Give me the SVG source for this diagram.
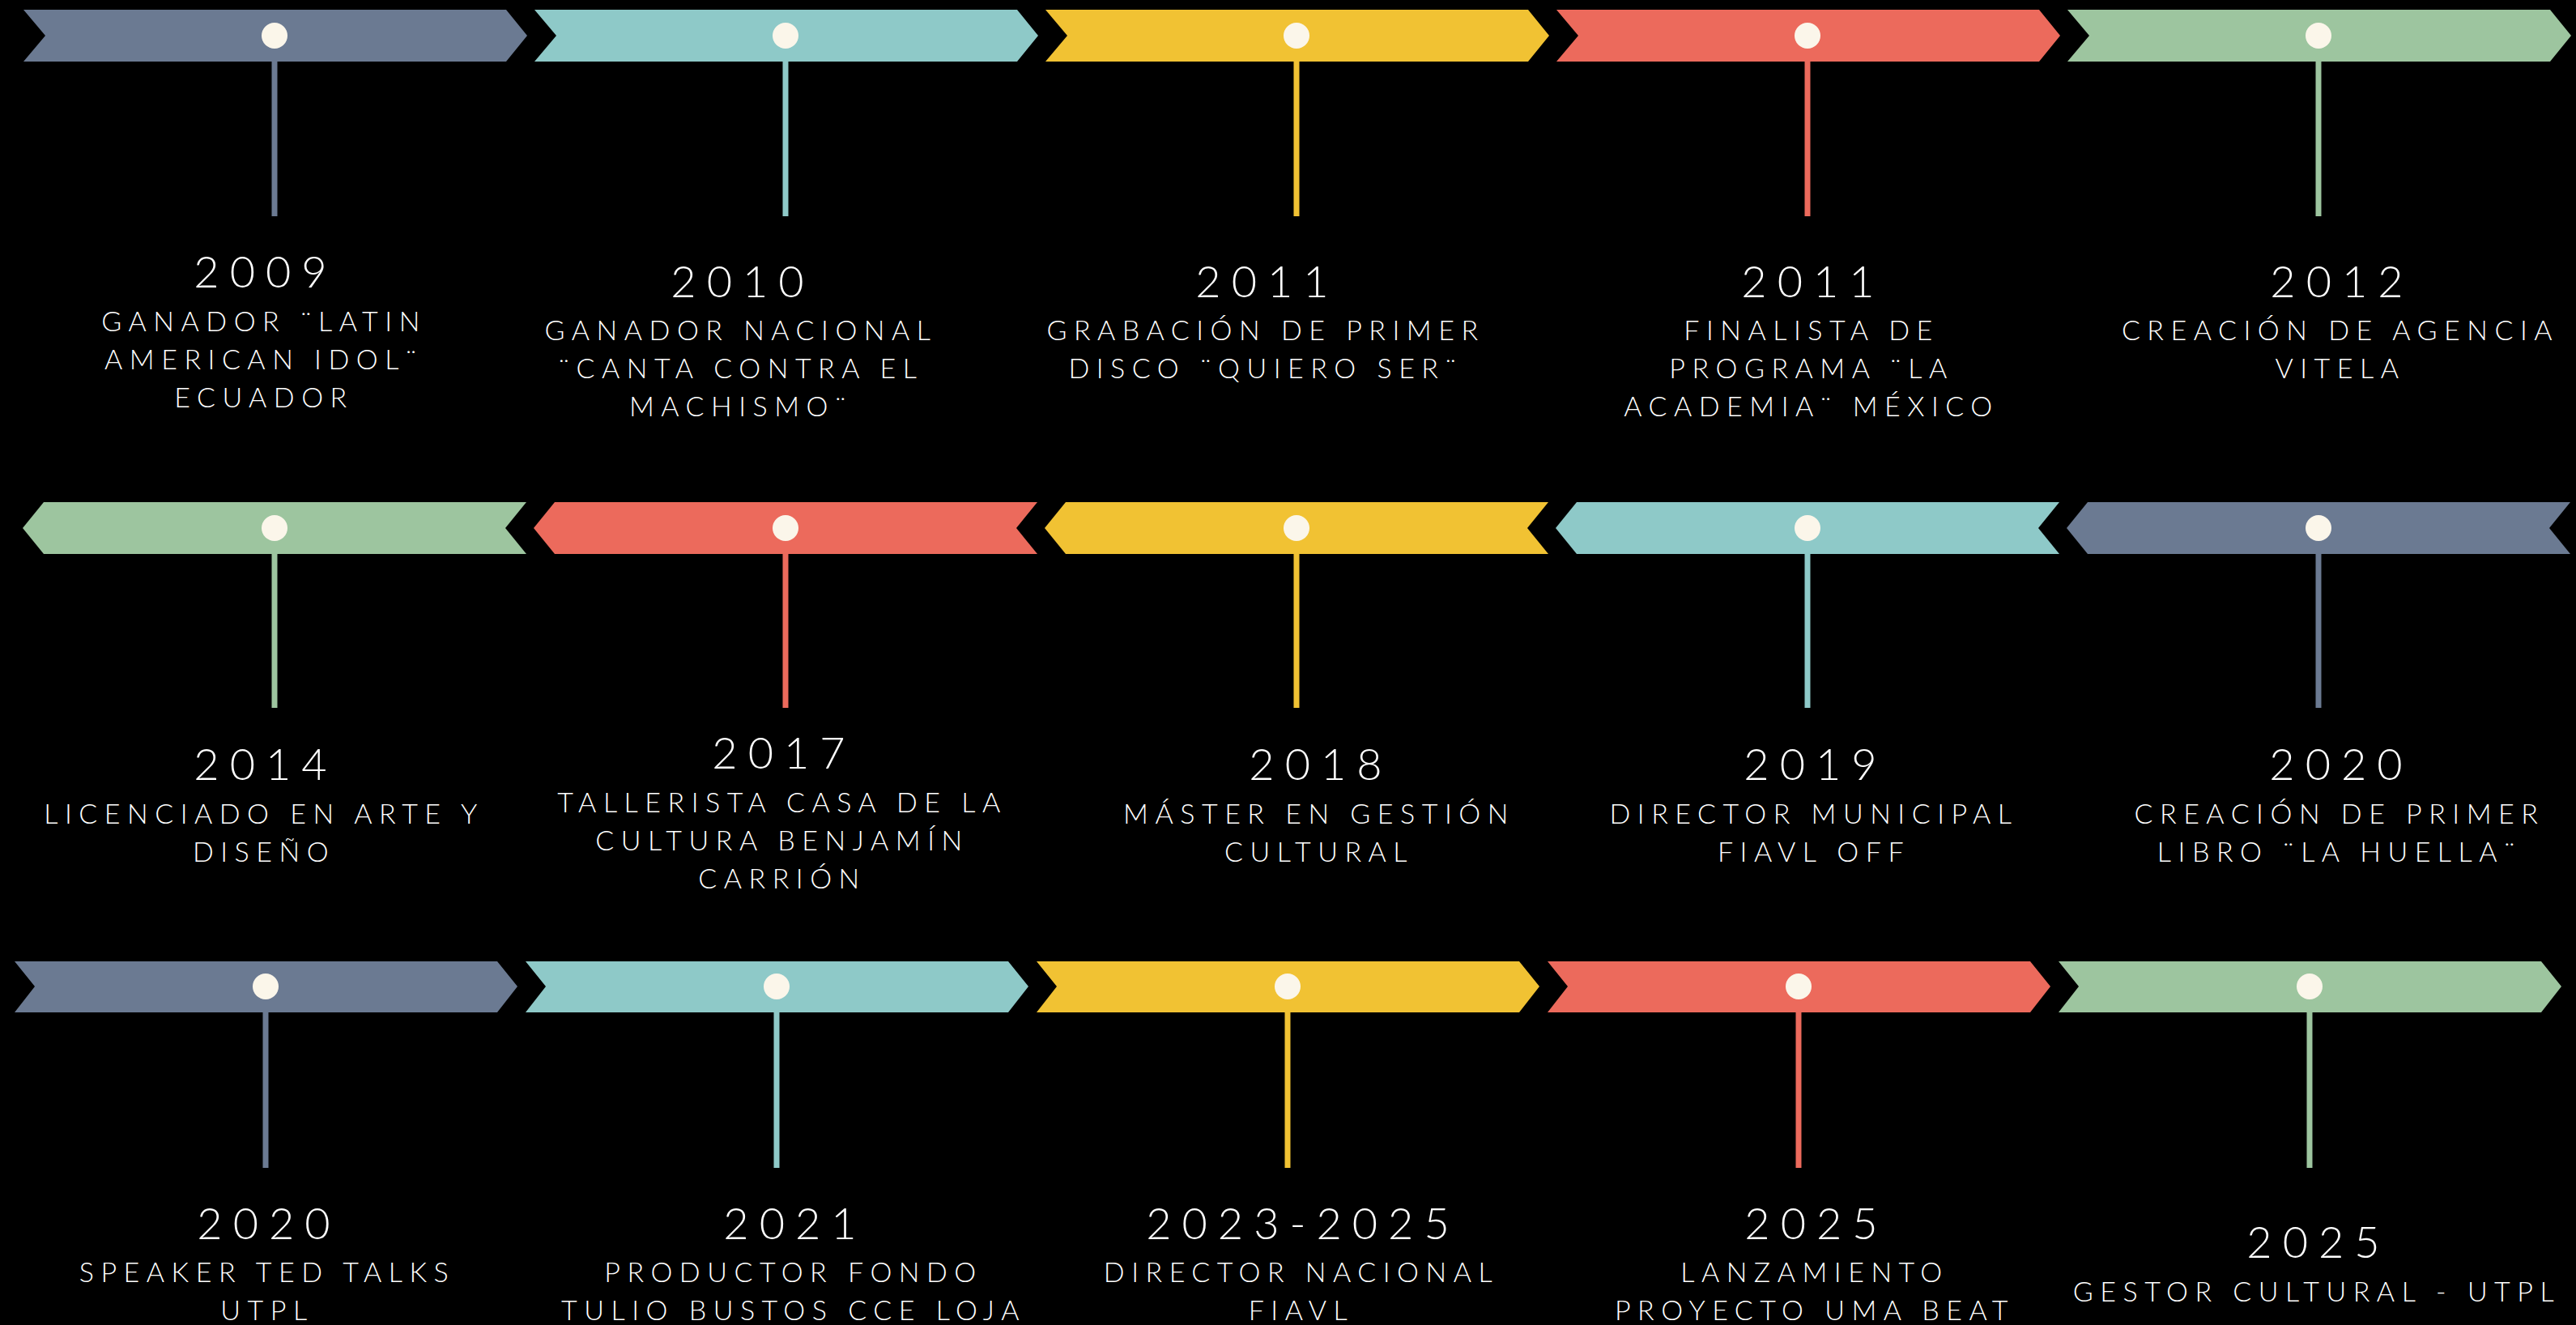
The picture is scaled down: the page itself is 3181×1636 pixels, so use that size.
<svg xmlns="http://www.w3.org/2000/svg" width="3181" height="1636" viewBox="0 0 3181 1636">
<style>
.y{font-family:Lato,"Open Sans","DejaVu Sans",sans-serif;font-weight:300;font-size:54px;letter-spacing:13px;fill:#ffffff;text-anchor:middle}
.d{font-family:Lato,"Open Sans","DejaVu Sans",sans-serif;font-weight:300;font-size:34px;letter-spacing:8.5px;fill:#ffffff;text-anchor:middle}
.dot{fill:#fbf6ea}
.slate{fill:#6b7a92}.teal{fill:#8ec9c8}.yel{fill:#f1c233}.cor{fill:#ec6a5c}.grn{fill:#9dc59f}
.stem{stroke-width:7;fill:none}
</style>
<rect x="0" y="0" width="3181" height="1636" fill="#000000"/>
<g id="connectors">
<line class="stem" x1="339" y1="76" x2="339" y2="267" stroke="#6b7a92"/>
<line class="stem" x1="970" y1="76" x2="970" y2="267" stroke="#8ec9c8"/>
<line class="stem" x1="1601" y1="76" x2="1601" y2="267" stroke="#f1c233"/>
<line class="stem" x1="2232" y1="76" x2="2232" y2="267" stroke="#ec6a5c"/>
<line class="stem" x1="2863" y1="76" x2="2863" y2="267" stroke="#9dc59f"/>
<line class="stem" x1="339" y1="684" x2="339" y2="874" stroke="#9dc59f"/>
<line class="stem" x1="970" y1="684" x2="970" y2="874" stroke="#ec6a5c"/>
<line class="stem" x1="1601" y1="684" x2="1601" y2="874" stroke="#f1c233"/>
<line class="stem" x1="2232" y1="684" x2="2232" y2="874" stroke="#8ec9c8"/>
<line class="stem" x1="2863" y1="684" x2="2863" y2="874" stroke="#6b7a92"/>
<line class="stem" x1="328" y1="1250" x2="328" y2="1442" stroke="#6b7a92"/>
<line class="stem" x1="959" y1="1250" x2="959" y2="1442" stroke="#8ec9c8"/>
<line class="stem" x1="1590" y1="1250" x2="1590" y2="1442" stroke="#f1c233"/>
<line class="stem" x1="2221" y1="1250" x2="2221" y2="1442" stroke="#ec6a5c"/>
<line class="stem" x1="2852" y1="1250" x2="2852" y2="1442" stroke="#9dc59f"/>
</g>
<!-- Row 1 -->
<g id="n2009">
<polygon class="slate" points="29,12 625,12 651,44 625,76 29,76 56,44"/>
<circle class="dot" cx="339" cy="44" r="16"/>
<text class="y" x="328" y="355">2009</text>
<text class="d" x="326" y="409">GANADOR ¨LATIN</text>
<text class="d" x="326" y="456">AMERICAN IDOL¨</text>
<text class="d" x="326" y="503">ECUADOR</text>
</g>
<g id="n2010">
<polygon class="teal" points="660,12 1256,12 1282,44 1256,76 660,76 687,44"/>
<circle class="dot" cx="970" cy="44" r="16"/>
<text class="y" x="917" y="367">2010</text>
<text class="d" x="915" y="420">GANADOR NACIONAL</text>
<text class="d" x="915" y="467">¨CANTA CONTRA EL</text>
<text class="d" x="915" y="514">MACHISMO¨</text>
</g>
<g id="n2011a">
<polygon class="yel" points="1291,12 1887,12 1913,44 1887,76 1291,76 1318,44"/>
<circle class="dot" cx="1601" cy="44" r="16"/>
<text class="y" x="1565" y="367">2011</text>
<text class="d" x="1563" y="420">GRABACIÓN DE PRIMER</text>
<text class="d" x="1563" y="467">DISCO ¨QUIERO SER¨</text>
</g>
<g id="n2011b">
<polygon class="cor" points="1922,12 2518,12 2544,44 2518,76 1922,76 1949,44"/>
<circle class="dot" cx="2232" cy="44" r="16"/>
<text class="y" x="2239" y="367">2011</text>
<text class="d" x="2237" y="420">FINALISTA DE</text>
<text class="d" x="2237" y="467">PROGRAMA ¨LA</text>
<text class="d" x="2237" y="514">ACADEMIA¨ MÉXICO</text>
</g>
<g id="n2012">
<polygon class="grn" points="2553,12 3149,12 3175,44 3149,76 2553,76 2580,44"/>
<circle class="dot" cx="2863" cy="44" r="16"/>
<text class="y" x="2892" y="367">2012</text>
<text class="d" x="2890" y="420">CREACIÓN DE AGENCIA</text>
<text class="d" x="2890" y="467">VITELA</text>
</g>
<!-- Row 2 -->
<g id="n2014">
<polygon class="grn" points="28,652 54,620 650,620 624,652 650,684 54,684"/>
<circle class="dot" cx="339" cy="652" r="16"/>
<text class="y" x="328" y="963">2014</text>
<text class="d" x="326" y="1017">LICENCIADO EN ARTE Y</text>
<text class="d" x="326" y="1064">DISEÑO</text>
</g>
<g id="n2017">
<polygon class="cor" points="659,652 685,620 1281,620 1255,652 1281,684 685,684"/>
<circle class="dot" cx="970" cy="652" r="16"/>
<text class="y" x="968" y="949">2017</text>
<text class="d" x="966" y="1003">TALLERISTA CASA DE LA</text>
<text class="d" x="966" y="1050">CULTURA BENJAMÍN</text>
<text class="d" x="966" y="1097">CARRIÓN</text>
</g>
<g id="n2018">
<polygon class="yel" points="1290,652 1316,620 1912,620 1886,652 1912,684 1316,684"/>
<circle class="dot" cx="1601" cy="652" r="16"/>
<text class="y" x="1631" y="963">2018</text>
<text class="d" x="1629" y="1017">MÁSTER EN GESTIÓN</text>
<text class="d" x="1629" y="1064">CULTURAL</text>
</g>
<g id="n2019">
<polygon class="teal" points="1921,652 1947,620 2543,620 2517,652 2543,684 1947,684"/>
<circle class="dot" cx="2232" cy="652" r="16"/>
<text class="y" x="2242" y="963">2019</text>
<text class="d" x="2240" y="1017">DIRECTOR MUNICIPAL</text>
<text class="d" x="2240" y="1064">FIAVL OFF</text>
</g>
<g id="n2020a">
<polygon class="slate" points="2552,652 2578,620 3174,620 3148,652 3174,684 2578,684"/>
<circle class="dot" cx="2863" cy="652" r="16"/>
<text class="y" x="2891" y="963">2020</text>
<text class="d" x="2889" y="1017">CREACIÓN DE PRIMER</text>
<text class="d" x="2889" y="1064">LIBRO ¨LA HUELLA¨</text>
</g>
<!-- Row 3 -->
<g id="n2020b">
<polygon class="slate" points="18,1187 614,1187 639,1218 614,1250 18,1250 43,1218"/>
<circle class="dot" cx="328" cy="1218" r="16"/>
<text class="y" x="332" y="1530">2020</text>
<text class="d" x="330" y="1583">SPEAKER TED TALKS</text>
<text class="d" x="330" y="1630">UTPL</text>
</g>
<g id="n2021">
<polygon class="teal" points="649,1187 1245,1187 1270,1218 1245,1250 649,1250 674,1218"/>
<circle class="dot" cx="959" cy="1218" r="16"/>
<text class="y" x="982" y="1530">2021</text>
<text class="d" x="980" y="1583">PRODUCTOR FONDO</text>
<text class="d" x="980" y="1630">TULIO BUSTOS CCE LOJA</text>
</g>
<g id="n2023">
<polygon class="yel" points="1280,1187 1876,1187 1901,1218 1876,1250 1280,1250 1305,1218"/>
<circle class="dot" cx="1590" cy="1218" r="16"/>
<text class="y" x="1609" y="1530">2023-2025</text>
<text class="d" x="1607" y="1583">DIRECTOR NACIONAL</text>
<text class="d" x="1607" y="1630">FIAVL</text>
</g>
<g id="n2025a">
<polygon class="cor" points="1911,1187 2507,1187 2532,1218 2507,1250 1911,1250 1936,1218"/>
<circle class="dot" cx="2221" cy="1218" r="16"/>
<text class="y" x="2243" y="1530">2025</text>
<text class="d" x="2241" y="1583">LANZAMIENTO</text>
<text class="d" x="2241" y="1630">PROYECTO UMA BEAT</text>
</g>
<g id="n2025b">
<polygon class="grn" points="2542,1187 3138,1187 3163,1218 3138,1250 2542,1250 2567,1218"/>
<circle class="dot" cx="2852" cy="1218" r="16"/>
<text class="y" x="2863" y="1553">2025</text>
<text class="d" x="2861" y="1607">GESTOR CULTURAL - UTPL</text>
</g>
</svg>
